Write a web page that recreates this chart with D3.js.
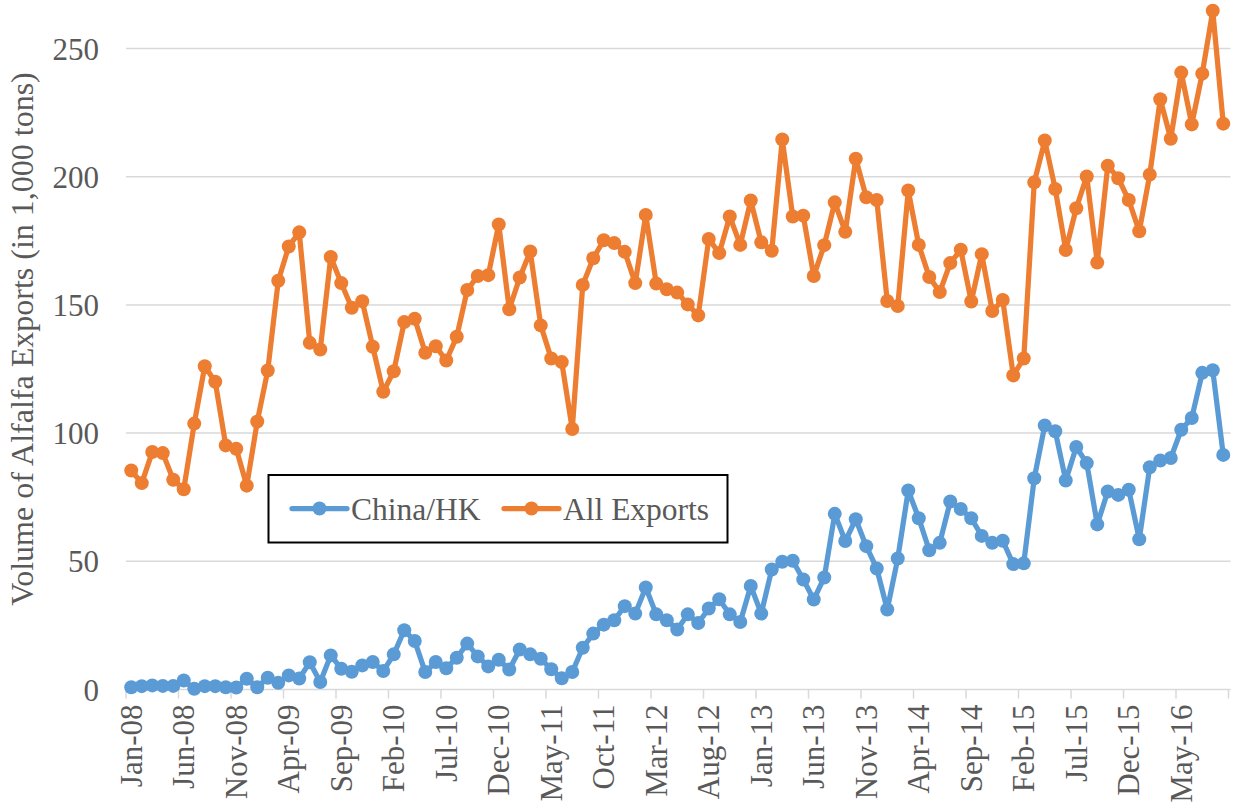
<!DOCTYPE html>
<html>
<head>
<meta charset="utf-8">
<script src="https://cdn.jsdelivr.net/npm/d3@7"></script>
<style>
  html, body { margin: 0; padding: 0; background: #fff; }
  svg text { font-family: "Liberation Serif", "Times New Roman", serif; fill: #595959; }
</style>
</head>
<body>
<svg id="chart" width="1233" height="810"></svg>
<script>
// ---- data ----
const startMonth = new Date(2008, 0, 1);
const monthCount = 105; // Jan-08 .. Sep-16
const fmt = d3.timeFormat("%b-%y");
const categories = d3.range(monthCount).map(i => fmt(d3.timeMonth.offset(startMonth, i)));

const tickLabels = ["Jan-08","Jun-08","Nov-08","Apr-09","Sep-09","Feb-10","Jul-10","Dec-10","May-11","Oct-11",
  "Mar-12","Aug-12","Jan-13","Jun-13","Nov-13","Apr-14","Sep-14","Feb-15","Jul-15","Dec-15","May-16"];

const yTicks = [0, 50, 100, 150, 200, 250];

const chinaHK = [
  0.9, 1.3, 1.6, 1.4, 1.4, 3.5, 0.3, 1.3, 1.3, 0.9, 0.8, 4.2,
  0.9, 4.6, 2.6, 5.5, 4.3, 10.6, 2.9, 13.3, 8.1, 6.9, 9.4, 10.7,
  7.2, 13.7, 23.1, 18.9, 6.8, 10.7, 8.3, 12.4, 17.9, 12.9, 9.0, 11.6,
  7.8, 15.6, 13.7, 12.0, 7.9, 4.4, 6.8, 16.3, 21.8, 25.3, 27.0, 32.5,
  29.6, 39.8, 29.3, 27.0, 23.4, 29.3, 25.9, 31.6, 35.2, 29.3, 26.3, 40.4,
  29.6, 46.8, 49.8, 50.2, 42.9, 35.1, 43.7, 68.5, 57.9, 66.4, 55.9, 47.2,
  31.2, 51.1, 77.6, 66.8, 54.3, 57.2, 73.3, 70.4, 66.8, 59.9, 57.2, 58.0,
  48.9, 49.2, 82.4, 103.0, 100.7, 81.5, 94.6, 88.3, 64.4, 77.2, 75.9, 77.9,
  58.6, 86.7, 89.3, 90.3, 101.3, 105.9, 123.5, 124.5, 91.5
];

const allExports = [
  85.4, 80.5, 92.6, 92.2, 81.8, 78.1, 103.7, 126.1, 120.0, 95.2, 93.9, 79.5,
  104.5, 124.4, 159.4, 172.8, 178.3, 135.2, 132.6, 168.7, 158.5, 148.9, 151.4, 133.7,
  116.1, 124.1, 143.3, 144.6, 131.3, 133.9, 128.3, 137.6, 155.8, 161.3, 161.6, 181.4,
  148.3, 160.7, 170.8, 142.0, 129.1, 127.7, 101.6, 157.8, 168.2, 175.2, 174.1, 170.7,
  158.5, 185.1, 158.3, 156.1, 154.8, 150.2, 145.9, 175.7, 170.2, 184.5, 173.4, 190.7,
  174.4, 171.1, 214.5, 184.5, 184.8, 161.3, 173.3, 190.0, 178.5, 207.0, 192.0, 190.9,
  151.5, 149.6, 194.6, 173.4, 160.9, 155.0, 166.3, 171.5, 151.3, 169.8, 147.6, 151.9,
  122.5, 129.1, 197.8, 214.1, 195.2, 171.4, 187.7, 200.1, 166.5, 204.3, 199.4, 190.9,
  178.7, 200.8, 230.2, 214.8, 240.6, 220.4, 240.2, 264.7, 220.7
];

const seriesNames = ["China/HK", "All Exports"];
const seriesColors = ["#5B9BD5", "#ED7D31"];
const seriesValues = [chinaHK, allExports];

(function draw() {
  const svg = d3.select("#chart");
  const mLeft = 126, mRight = 1228.5, mTop = 48.5, mBottom = 689.5;

  const x = d3.scaleBand().domain(categories).range([mLeft, mRight]).padding(0);
  const y = d3.scaleLinear().domain([0, 250]).range([mBottom, mTop]);
  const cx = c => x(c) + x.bandwidth() / 2;

  // gridlines
  svg.append("g")
    .selectAll("line")
    .data(yTicks.filter(t => t > 0))
    .join("line")
    .attr("x1", mLeft).attr("x2", mRight + 2)
    .attr("y1", d => y(d)).attr("y2", d => y(d))
    .attr("stroke", "#D9D9D9").attr("stroke-width", 1.5);

  // y axis labels
  const yAxis = d3.axisLeft(y).tickValues(yTicks).tickSize(0).tickPadding(0).tickFormat(d3.format("d"));
  const yg = svg.append("g").attr("transform", `translate(${mLeft - 27},0)`).call(yAxis);
  yg.select(".domain").remove();
  yg.selectAll("text").attr("font-size", 31).attr("fill", "#595959")
    .attr("font-family", "Liberation Serif").attr("dy", "0.34em");

  // x axis line
  svg.append("line")
    .attr("x1", mLeft).attr("x2", mRight + 2)
    .attr("y1", y(0)).attr("y2", y(0))
    .attr("stroke", "#D9D9D9").attr("stroke-width", 1.5);

  // x tick marks at category boundaries every 5 months
  const tickCats = categories.filter((c, i) => i % 5 === 0);
  svg.append("g").selectAll("line")
    .data(tickCats)
    .join("line")
    .attr("x1", d => x(d)).attr("x2", d => x(d))
    .attr("y1", y(0)).attr("y2", y(0) + 9)
    .attr("stroke", "#D9D9D9").attr("stroke-width", 1.5);
  svg.append("line")
    .attr("x1", mRight).attr("x2", mRight)
    .attr("y1", y(0)).attr("y2", y(0) + 9)
    .attr("stroke", "#D9D9D9").attr("stroke-width", 1.5);

  // x labels (rotated)
  const xAxis = d3.axisBottom(x).tickValues(tickLabels).tickSize(0).tickPadding(0);
  const xg = svg.append("g").attr("transform", `translate(0,${y(0)})`).call(xAxis);
  xg.select(".domain").remove();
  xg.selectAll("text")
    .attr("font-size", 31).attr("fill", "#595959").attr("font-family", "Liberation Serif")
    .attr("transform", "rotate(-90)")
    .attr("text-anchor", "end")
    .attr("x", -15).attr("y", 0).attr("dy", "0.34em");

  // y title
  svg.append("text")
    .attr("transform", `translate(33,339) rotate(-90)`)
    .attr("text-anchor", "middle")
    .attr("font-size", 32)
    .text("Volume of Alfalfa Exports (in 1,000 tons)");

  // series
  const line = d3.line().x((d, i) => cx(categories[i])).y(d => y(d));
  seriesValues.forEach((vals, si) => {
    const g = svg.append("g");
    g.append("path")
      .datum(vals)
      .attr("d", line)
      .attr("fill", "none")
      .attr("stroke", seriesColors[si])
      .attr("stroke-width", 5.25)
      .attr("stroke-linejoin", "round")
      .attr("stroke-linecap", "round");
    g.selectAll("circle")
      .data(vals)
      .join("circle")
      .attr("cx", (d, i) => cx(categories[i]))
      .attr("cy", d => y(d))
      .attr("r", 7)
      .attr("fill", seriesColors[si]);
  });

  // legend
  const lg = svg.append("g");
  lg.append("rect")
    .attr("x", 268.5).attr("y", 475).attr("width", 459).attr("height", 67.5)
    .attr("fill", "#fff").attr("stroke", "#000").attr("stroke-width", 2);
  const legendItems = [
    { x0: 292, x1: 347, tx: 351 },
    { x0: 504, x1: 559, tx: 563 }
  ];
  legendItems.forEach((it, i) => {
    lg.append("line")
      .attr("x1", it.x0).attr("x2", it.x1).attr("y1", 508.5).attr("y2", 508.5)
      .attr("stroke", seriesColors[i]).attr("stroke-width", 5.25).attr("stroke-linecap", "round");
    lg.append("circle").attr("cx", (it.x0 + it.x1) / 2).attr("cy", 508.5).attr("r", 7)
      .attr("fill", seriesColors[i]);
    lg.append("text").attr("x", it.tx).attr("y", 520).attr("font-size", 31.5)
      .text(seriesNames[i]);
  });
})();
</script>
</body>
</html>
